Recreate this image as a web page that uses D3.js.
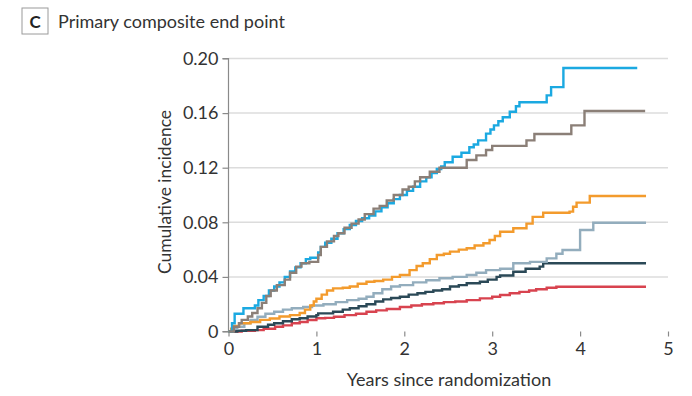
<!DOCTYPE html>
<html>
<head>
<meta charset="utf-8">
<script src="https://cdn.jsdelivr.net/npm/d3@7"></script>
<style>
  html, body { margin: 0; padding: 0; background: #fff; }
  svg { display: block; }
  text { font-family: Lato, "Open Sans", sans-serif; fill: #333; }
</style>
</head>
<body>
<svg id="chart" width="692" height="396"></svg>
<script>
// Cumulative incidence step curves: [years since randomization, cumulative incidence]
const seriesBlue = [
  [0,0],[0.04,0.006],[0.07,0.013],[0.17,0.017],[0.30,0.019],[0.34,0.023],[0.40,0.026],
  [0.46,0.030],[0.52,0.033],[0.58,0.036],[0.64,0.040],[0.70,0.044],[0.76,0.047],
  [0.82,0.050],[0.88,0.053],[0.93,0.054],[1.02,0.058],[1.05,0.062],[1.10,0.065],
  [1.17,0.068],[1.24,0.072],[1.31,0.075],[1.38,0.078],[1.45,0.081],[1.52,0.083],
  [1.60,0.085],[1.67,0.088],[1.74,0.091],[1.81,0.094],[1.88,0.097],[1.95,0.100],
  [2.03,0.103],[2.10,0.106],[2.18,0.110],[2.25,0.113],[2.31,0.116],[2.37,0.119],
  [2.42,0.121],[2.46,0.124],[2.55,0.128],[2.65,0.131],[2.74,0.135],[2.79,0.137],
  [2.84,0.140],[2.93,0.145],[2.98,0.148],[3.02,0.151],[3.07,0.154],[3.12,0.157],
  [3.20,0.161],[3.27,0.165],[3.31,0.168],[3.62,0.173],[3.67,0.179],[3.81,0.193],[4.65,0.193]
];
const seriesBrown = [
  [0,0],[0.06,0.0035],[0.12,0.006],[0.15,0.0085],[0.22,0.011],[0.27,0.0135],[0.33,0.017],
  [0.38,0.021],[0.43,0.026],[0.48,0.030],[0.55,0.034],[0.64,0.038],[0.70,0.043],
  [0.77,0.0475],[0.83,0.050],[0.92,0.051],[1.02,0.056],[1.05,0.062],[1.12,0.066],
  [1.20,0.070],[1.25,0.072],[1.32,0.076],[1.40,0.079],[1.48,0.082],[1.55,0.086],
  [1.65,0.090],[1.72,0.092],[1.80,0.096],[1.88,0.100],[1.98,0.104],[2.05,0.106],
  [2.12,0.110],[2.18,0.113],[2.29,0.117],[2.40,0.120],[2.71,0.1256],[2.82,0.129],
  [2.93,0.133],[3.00,0.136],[3.39,0.140],[3.48,0.1447],[3.90,0.151],[4.05,0.1615],[4.74,0.1615]
];
const seriesOrange = [
  [0,0],[0.03,0.002],[0.06,0.004],[0.12,0.006],[0.25,0.007],[0.36,0.0085],[0.47,0.0095],
  [0.58,0.011],[0.70,0.012],[0.81,0.0135],[0.87,0.016],[0.93,0.019],[0.97,0.022],
  [1.00,0.024],[1.06,0.027],[1.12,0.030],[1.19,0.0316],[1.30,0.032],[1.38,0.033],
  [1.47,0.035],[1.57,0.0365],[1.66,0.037],[1.76,0.038],[1.86,0.040],[1.95,0.0414],
  [2.06,0.045],[2.14,0.048],[2.21,0.050],[2.29,0.053],[2.37,0.056],[2.45,0.057],
  [2.52,0.0585],[2.62,0.060],[2.71,0.061],[2.80,0.063],[2.90,0.0646],[2.97,0.067],
  [3.03,0.070],[3.09,0.0731],[3.24,0.0756],[3.39,0.079],[3.46,0.084],[3.58,0.087],
  [3.88,0.0878],[3.92,0.0914],[3.96,0.0944],[4.11,0.0993],[4.75,0.0993]
];
const seriesSteel = [
  [0,0],[0.05,0.002],[0.10,0.0035],[0.18,0.006],[0.25,0.0085],[0.33,0.0108],[0.42,0.013],
  [0.52,0.0145],[0.62,0.016],[0.72,0.017],[0.85,0.018],[0.95,0.019],[1.08,0.020],
  [1.22,0.0215],[1.35,0.023],[1.48,0.024],[1.57,0.0255],[1.65,0.028],[1.75,0.031],
  [1.85,0.033],[1.95,0.034],[2.10,0.036],[2.25,0.0375],[2.40,0.039],[2.55,0.040],
  [2.71,0.0414],[2.82,0.043],[2.93,0.045],[3.09,0.046],[3.24,0.050],[3.43,0.051],
  [3.62,0.0536],[3.73,0.057],[3.80,0.0597],[4.00,0.0744],[4.15,0.0797],[4.75,0.0797]
];
const seriesDark = [
  [0,0],[0.10,0.0005],[0.20,0.001],[0.33,0.0035],[0.45,0.005],[0.52,0.006],[0.62,0.0075],
  [0.72,0.009],[0.81,0.0097],[0.90,0.011],[1.00,0.012],[1.02,0.0133],[1.19,0.0145],
  [1.30,0.016],[1.38,0.017],[1.48,0.0185],[1.57,0.020],[1.67,0.022],[1.76,0.0235],
  [1.85,0.0245],[1.95,0.0255],[2.05,0.027],[2.15,0.028],[2.24,0.029],[2.33,0.030],
  [2.43,0.031],[2.52,0.033],[2.62,0.034],[2.71,0.0353],[2.86,0.0365],[2.95,0.038],
  [3.05,0.040],[3.09,0.041],[3.24,0.0438],[3.38,0.046],[3.54,0.0475],[3.58,0.050],[4.75,0.050]
];
const seriesRed = [
  [0,0],[0.15,0.0005],[0.30,0.001],[0.40,0.002],[0.53,0.0035],[0.62,0.0045],[0.72,0.006],
  [0.81,0.007],[0.90,0.0084],[1.00,0.0097],[1.10,0.010],[1.20,0.0108],[1.32,0.012],
  [1.45,0.013],[1.57,0.0145],[1.68,0.0155],[1.80,0.0165],[1.95,0.018],[2.08,0.019],
  [2.20,0.020],[2.33,0.0207],[2.45,0.0215],[2.58,0.022],[2.71,0.023],[2.86,0.0243],
  [3.00,0.0255],[3.09,0.0267],[3.20,0.028],[3.31,0.029],[3.42,0.030],[3.50,0.031],
  [3.62,0.032],[3.73,0.0328],[4.75,0.0328]
];

const xTicks = [0, 1, 2, 3, 4, 5];
const yTicks = [0, 0.04, 0.08, 0.12, 0.16, 0.20];
const yTickLabels = ["0", "0.04", "0.08", "0.12", "0.16", "0.20"];

const curves = [
  { data: seriesRed,    color: "#d8434f" },
  { data: seriesDark,   color: "#2b4957" },
  { data: seriesSteel,  color: "#93adbd" },
  { data: seriesOrange, color: "#f39b2d" },
  { data: seriesBlue,   color: "#1ba9e1" },
  { data: seriesBrown,  color: "#8b7f77" }
];

const svg = d3.select("#chart");

const x = d3.scaleLinear().domain([0, 5]).range([228.5, 668]);
const y = d3.scaleLinear().domain([0, 0.20]).range([331.5, 58.5]);

// Panel heading with boxed letter
svg.append("rect")
  .attr("x", 22).attr("y", 8).attr("width", 26).attr("height", 26)
  .attr("fill", "#fff").attr("stroke", "#9a9a9a").attr("stroke-width", 1);
svg.append("text")
  .attr("x", 35).attr("y", 27.5).attr("text-anchor", "middle")
  .style("font-size", "17px").style("font-weight", "700").style("fill", "#222")
  .text("C");
svg.append("text")
  .attr("x", 58).attr("y", 27.5)
  .style("font-size", "18px")
  .text("Primary composite end point");

// Horizontal gridlines
svg.append("g")
  .selectAll("line")
  .data(yTicks.filter(d => d > 0))
  .join("line")
  .attr("x1", x(0)).attr("x2", x(5))
  .attr("y1", d => y(d)).attr("y2", d => y(d))
  .attr("stroke", "#dcdcdc").attr("stroke-width", 1.5);

// Axes
const yAxis = d3.axisLeft(y).tickValues(yTicks)
  .tickFormat((d, i) => yTickLabels[i]).tickSize(6).tickPadding(4);
const gy = svg.append("g").attr("transform", `translate(${x(0)},0)`).call(yAxis);

const xAxis = d3.axisBottom(x).tickValues(xTicks).tickFormat(d3.format("d"))
  .tickSize(5).tickPadding(6);
const gx = svg.append("g").attr("transform", `translate(0,${y(0)})`).call(xAxis);

[gx, gy].forEach(g => {
  g.select(".domain").attr("stroke", "#8a8a8a").attr("stroke-width", 1.2);
  g.selectAll(".tick line").attr("stroke", "#8a8a8a").attr("stroke-width", 1.2);
  g.selectAll(".tick text").style("font-size", "18px").style("font-family", "Lato, sans-serif").attr("fill", "#333");
});
gy.select(".domain").attr("d", `M-6,${y(0.2)}H0V${y(0)}H-6`);
gx.select(".domain").attr("d", `M${x(0)},${y(0)}H${x(5)}`);

// Axis titles
svg.append("text")
  .attr("transform", `translate(171,${(y(0) + y(0.2)) / 2 - 3}) rotate(-90)`)
  .attr("text-anchor", "middle")
  .style("font-size", "17.5px")
  .text("Cumulative incidence");
svg.append("text")
  .attr("x", 449).attr("y", 386)
  .attr("text-anchor", "middle")
  .style("font-size", "18px")
  .text("Years since randomization");

// Step curves
const line = d3.line()
  .x(d => x(d[0]))
  .y(d => y(d[1]))
  .curve(d3.curveStepAfter);

svg.append("g")
  .selectAll("path")
  .data(curves)
  .join("path")
  .attr("d", d => line(d.data))
  .attr("fill", "none")
  .attr("stroke", d => d.color)
  .attr("stroke-width", 2.4)
  .attr("stroke-linejoin", "miter");
</script>
</body>
</html>
